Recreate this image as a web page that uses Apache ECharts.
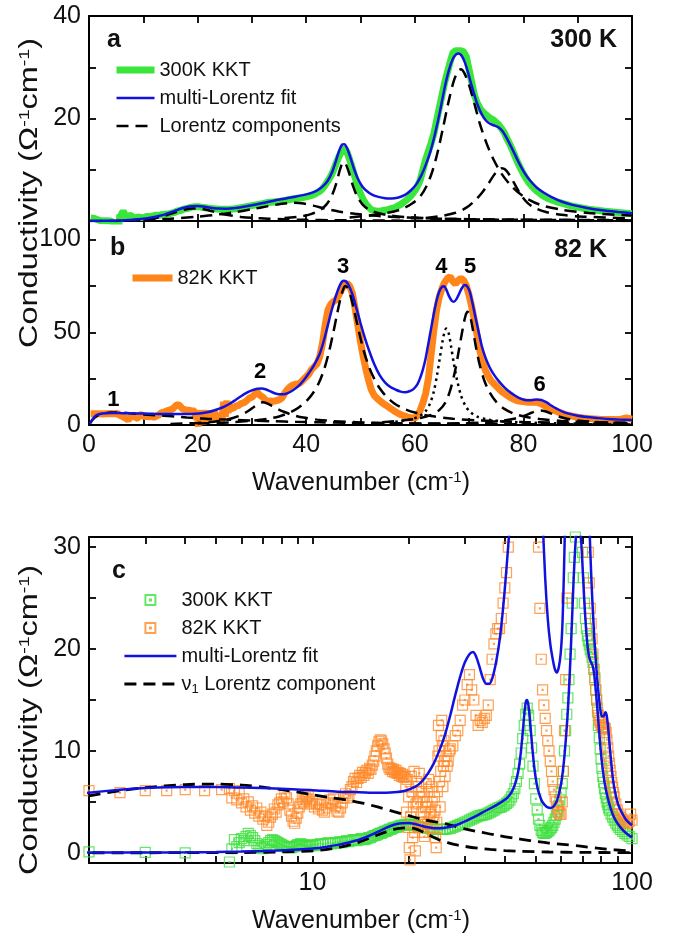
<!DOCTYPE html>
<html><head><meta charset="utf-8">
<script src="https://cdn.jsdelivr.net/npm/echarts@6.0.0/dist/echarts.min.js"></script>
<style>html,body{margin:0;padding:0;background:#fff}#c{width:673px;height:937px}</style>
</head><body><div id="c"></div>
<script>
// ---------- data (wavenumber cm^-1, conductivity Ohm^-1 cm^-1) ----------
const kkt300 = [[0.3,0.6],[1,0.5],[2,0.1],[3,0.05],[4,0.0],
[5.5,-0.9],[5.6,0.4],[5.7,1.3],[5.8,0.6],[5.9,1.0],[6.0,1.4],[6.1,1.2],[6.2,1.6],[6.3,1.9],[6.4,1.7],[6.5,1.5],[6.6,1.2],[6.7,0.9],[6.8,0.7],[6.9,0.5],[7.0,0.4],[7.1,0.6],[7.2,0.8],[7.3,1.0],[7.4,1.2],[7.5,1.3],[7.6,1.2],[7.7,1.1],[7.8,1.0],[7.9,0.9],[8.0,0.8],[8.1,0.7],[8.2,0.6],[8.3,0.6],[8.4,0.5],[8.5,0.5],[8.6,0.5],[8.7,0.6],[8.8,0.6],[8.9,0.7],[9.0,0.8],[9.1,0.8],[9.2,0.9],[9.3,0.8],[9.4,0.7],[9.5,0.7],[9.6,0.6],[9.7,0.6],[9.8,0.7],[9.9,0.7],[10.0,0.8],[10.2,0.7],[10.4,0.8],[10.6,0.9],[10.8,0.8],[11.0,0.9],[11.2,1.0],[11.4,0.9],[11.6,0.9],[11.8,1.0],[12.0,1.0],[12.2,1.1],[12.4,1.0],[12.6,1.1],[12.8,1.2],[13.0,1.1],[13.2,1.2],[13.4,1.3],[13.6,1.3],[13.8,1.2],[14.0,1.3],[14.2,1.4],[14.4,1.4],[14.6,1.3],[14.8,1.4],[15.0,1.5],[15.2,1.5],[15.4,1.6],[15.6,1.7],[15.8,1.7],[16.0,1.8],[16.2,1.9],[16.4,1.9],[16.6,2.0],[16.8,2.1],[17.0,2.1],[17.2,2.2],[17.4,2.3],[17.6,2.3],[17.8,2.4],[18.0,2.5],[18.3,2.5],[18.6,2.6],[18.9,2.7],[19.2,2.7],[19.5,2.8],[19.8,2.8],[20.1,2.8],[20.4,2.8],[20.7,2.7],[21,2.7],[21.5,2.6],[22,2.5],[22.5,2.45],[23,2.4],[23.5,2.35],[24,2.3],[24.5,2.3],[25,2.3],[25.5,2.3],[26,2.3],[26.5,2.35],[27,2.4],[27.5,2.5],[28,2.6],[28.5,2.7],[29,2.8],[29.5,2.9],[30,3.0],[30.5,3.1],[31,3.2],[31.5,3.3],[32,3.4],[32.5,3.5],[33,3.6],[33.5,3.65],[34,3.7],[34.5,3.75],[35,3.8],[35.5,3.9],[36,4.0],[36.5,4.1],[37,4.2],[37.5,4.3],[38,4.4],[38.5,4.45],[39,4.5],[39.5,4.6],[40,4.7],[40.5,4.85],[41,5.0],[41.5,5.2],[42,5.5],[42.5,5.8],[43,6.3],[43.5,7.0],[44,7.8],[44.5,8.7],[45,9.8],[45.5,11.2],[46,12.5],[46.5,13.6],[47,14.2],[47.5,13.5],[48,12],[48.5,10.3],[49,8.5],[49.5,6.8],[50,5.3],[50.5,4.2],[51,3.3],[51.5,2.7],[52,2.2],[52.5,2.0],[53,1.9],[53.5,1.9],[54,2.0],[54.5,2.1],[55,2.2],[55.5,2.35],[56,2.5],[56.5,2.7],[57,3.0],[57.5,3.3],[58,3.7],[58.5,4.1],[59,4.6],[59.5,5.2],[60,5.9],[60.5,6.8],[61,8.0],[61.5,10],[62,12],[62.5,13.6],[63,15.2],[63.5,17],[64,19.5],[64.5,22],[65,24.5],[65.5,27],[66,29],[66.5,31],[67,32.8],[67.5,33.2],[68,33.2],[68.5,33.2],[69,33],[69.5,32],[70,29.5],[70.5,27],[71,24.5],[71.5,23],[72,22],[72.5,21.3],[73,20.8],[73.5,20.4],[74,20],[74.5,19.7],[75,19.2],[75.5,18.7],[76,18],[76.5,17.2],[77,16],[77.5,15],[78,13.8],[78.5,12.5],[79,11.3],[79.5,10.2],[80,9.2],[80.5,8.3],[81,7.5],[81.5,6.9],[82,6.3],[82.5,5.8],[83,5.4],[83.5,5.0],[84,4.7],[84.5,4.4],[85,4.2],[86,3.8],[87,3.5],[88,3.2],[89,2.9],[90,2.7],[91,2.5],[92,2.3],[93.5,2.1],[95,1.9],[96.5,1.75],[98,1.6],[100,1.4]];

const kkt82 = [[0.3,6.0],[1,6.0],[2,6.1],[2.5,5.9],[3,6.1],[3.5,6.1],[4,6.2],[4.6,6.1],[5.2,6.2],
[5.5,6.3],[5.6,5.4],[5.7,6.1],[5.8,5.2],[5.9,5.8],[6.0,4.9],[6.1,5.3],[6.2,4.5],[6.3,5.0],[6.4,4.2],[6.5,4.6],[6.6,3.9],[6.7,4.4],[6.8,3.6],[6.9,4.0],[7.0,3.3],[7.1,3.6],[7.2,2.7],[7.3,3.0],[7.4,3.5],[7.5,3.8],[7.6,4.3],[7.7,4.0],[7.8,4.7],[7.9,4.9],[8.0,5.3],[8.1,5.0],[8.2,5.8],[8.3,5.4],[8.4,4.8],[8.5,4.2],[8.6,3.6],[8.7,3.1],[8.8,2.9],[8.9,3.4],[9.0,3.9],[9.1,4.5],[9.2,4.8],[9.3,5.2],[9.4,5.0],[9.5,5.5],[9.6,5.3],[9.7,5.6],[9.8,5.0],[9.9,4.8],[10.0,5.2],[10.15,4.5],[10.3,4.8],[10.45,4.3],[10.6,4.7],[10.75,4.2],[10.9,4.0],[11.05,4.4],[11.2,4.9],[11.35,5.2],[11.5,4.8],[11.65,5.3],[11.8,4.6],[11.95,4.1],[12.1,4.0],[12.25,4.4],[12.4,4.9],[12.55,5.4],[12.7,5.8],[12.85,5.4],[13.0,5.6],[13.15,6.2],[13.3,6.5],[13.45,7.0],[13.6,7.3],[13.75,6.9],[13.9,7.3],[14.05,7.6],[14.2,7.4],[14.35,7.9],[14.5,7.6],[14.65,7.9],[14.8,8.1],[14.95,7.8],[15.1,8.3],[15.25,8.2],[15.4,8.6],[15.55,9.0],[15.7,9.5],[15.85,10.0],[16.0,10.5],[16.15,10.9],[16.3,11.1],[16.45,11.0],[16.6,10.7],[16.75,10.2],[16.9,9.8],[17.05,9.3],[17.2,8.7],[17.35,8.4],[17.5,8.2],[17.65,8.3],[17.8,8.0],[17.95,8.2],[18.1,7.9],[18.25,8.1],[18.4,7.8],[18.55,7.9],[18.7,7.6],[18.85,7.8],[19.0,7.5],[19.15,7.7],[19.3,7.4],[19.5,7.5],
[19.6,6.5],[19.7,4.0],[19.8,7.2],[19.9,2.5],[20.0,5.5],[20.1,0.5],[20.2,-0.7],[20.3,3.5],[20.4,7.5],[20.5,6.0],[20.6,1.5],[20.7,4.5],[20.8,8.0],[20.9,2.0],[21.0,0.2],[21.1,4.8],[21.2,7.0],[21.3,5.0],[21.4,2.5],[21.5,6.5],[21.6,7.8],[21.7,5.5],[21.8,3.0],[21.9,6.0],[22.0,4.0],[22.1,2.0],[22.2,5.5],[22.3,3.5],[22.4,1.6],[22.5,2.8],[22.6,4.5],[22.7,6.8],[22.8,5.0],[22.9,2.8],[23.0,4.5],[23.1,7.2],[23.2,6.0],[23.3,3.8],[23.4,2.5],[23.5,4.0],[23.6,6.5],[23.7,5.0],[23.8,3.0],[23.9,2.0],[24.0,3.5],[24.1,5.5],[24.2,4.2],[24.3,1.5],[24.4,0.5],[24.5,3.0],[24.6,6.0],[24.7,9.5],[24.8,12.5],[24.9,10.0],[25.0,7.0],[25.1,4.5],[25.2,8.0],[25.3,11.5],[25.4,13.0],[25.5,10.5],[25.6,6.5],[25.7,8.5],[25.8,11.0],[25.9,9.0],[26.0,7.5],[26.2,9.5],[26.4,8.5],[26.6,9.0],[26.8,10.0],[27,10.2],[27.5,10.5],[28,11.5],[28.5,12],[29,13],[29.5,14.5],[30,15],[30.5,16.5],[31,17.5],[31.5,16],[32,15],[32.5,13.5],[33,12.5],[33.5,13],[34,12.8],[34.5,13.2],[35,13.5],[35.5,14.5],[36,17],[36.5,19],[37,20.5],[37.5,21.5],[38,22],[38.5,22],[39,23],[39.5,24.5],[40,26],[40.5,27.5],[41,30],[41.5,31.5],[42,33],[42.5,37],[43,44],[43.5,54],[44,62],[44.5,65],[45,66.5],[45.5,67.5],[46,70],[46.5,73],[47,75.5],[47.5,76.5],[48,75],[48.5,71],[49,63],[49.5,54],[50,45],[50.5,37],[51,30],[51.5,24],[52,19],[52.5,16],[53,14.5],[53.5,13.2],[54,12],[54.5,11],[55,10],[55.5,9],[56,8],[56.5,7],[57,6.2],[57.5,5.5],[58,5],[58.5,4.4],[59,4],[59.5,3.8],[60,3.8],[60.5,5],[61,8],[61.5,12],[62,17],[62.5,25],[63,38],[63.5,51],[64,62],[64.5,69],[65,73.5],[65.5,77],[66,79],[66.5,80],[67,77.5],[67.5,76],[68,78],[68.5,79],[69,78],[69.5,75],[70,70],[70.5,63.5],[71,56],[71.5,48],[72,40],[72.5,34],[73,29.5],[73.5,26.5],[74,24],[74.5,22.5],[75,21],[75.5,19.5],[76,18],[76.5,17],[77,16],[77.5,15],[78,14.2],[78.5,13.5],[79,13],[79.5,12.8],[80,12.6],[80.5,12.4],[81,12.3],[81.5,12.3],[82,12.3],[82.5,12.2],[83,11.8],[83.5,11.1],[84,10.3],[84.5,9.5],[85,8.8],[85.5,8.1],[86,7.5],[86.5,6.9],[87,6.4],[87.5,5.9],[88,5.5],[89,4.8],[90,4.2],[91,3.8],[92,3.5],[93,3.3],[94,3.1],[95,3.0],[96,2.9],[97,2.9],[98,3.1],[99,3.8],[100,3.2]];

const fit300 = [[0.2,0],[2,0.02],[3,0.03],[4,0.05],[5,0.08],[6,0.12],[7,0.18],[8,0.25],[9,0.32],[10,0.42],[11,0.58],[12,0.78],[13,1.02],[14,1.3],[15,1.65],[16,2.05],[17,2.45],[18,2.75],[19,2.9],[20,2.92],[21,2.82],[22,2.65],[23,2.5],[24,2.42],[25,2.4],[26,2.45],[27,2.55],[28,2.7],[29,2.88],[30,3.08],[32,3.5],[34,3.95],[36,4.35],[38,4.75],[40,5.2],[41,5.5],[42,5.95],[43,6.7],[44,7.9],[44.8,9.6],[45.5,11.8],[46.1,13.8],[46.6,14.9],[47,15.0],[47.5,14.3],[48.1,12.5],[48.8,10.2],[49.5,8.3],[50.3,6.8],[51.2,5.8],[52.2,5.1],[53.3,4.7],[54.5,4.45],[55.7,4.4],[57,4.6],[58.2,5.1],[59.3,6],[60.3,7.2],[61.2,8.9],[62,10.9],[62.8,13.3],[63.5,16],[64.2,19.2],[64.9,22.8],[65.6,26.5],[66.3,29.5],[67,31.6],[67.6,32.5],[68.1,32.7],[68.6,32.3],[69.2,31],[69.8,29],[70.5,26.3],[71.2,23.8],[71.9,21.8],[72.6,20.3],[73.3,19.4],[74,18.9],[74.7,18.6],[75.4,18.3],[76.1,17.6],[76.8,16.4],[77.5,15],[78.3,13.3],[79.2,11.3],[80.2,9.4],[81.3,7.8],[82.5,6.5],[83.8,5.5],[85.3,4.6],[87,3.8],[89,3.15],[91.5,2.6],[94.5,2.1],[97.5,1.75],[100,1.5]];

const fit82 = [[0.2,1.0],[0.5,2.5],[1,4.4],[1.5,5.4],[2,5.9],[2.5,6.2],[3,6.35],[4,6.45],[5,6.45],[6,6.4],[8,6.3],[10,6.15],[12,6.0],[14,5.95],[16,5.9],[18,5.95],[19.5,6.1],[21,6.5],[22,7.0],[23,7.8],[24,8.8],[25,10.1],[26,11.6],[27,13.5],[28,15.5],[29,17.3],[30,18.7],[31,19.5],[31.8,19.7],[32.5,19.3],[33.3,18.3],[34.2,17.1],[35,16.6],[35.8,16.6],[36.6,17.2],[37.5,18.6],[38.5,20.8],[39.5,24],[40.5,28],[41.5,32.5],[42.5,38.5],[43.3,46],[44,54],[44.7,62],[45.4,69],[46,74],[46.5,77],[46.9,77.8],[47.3,77.5],[47.8,75.5],[48.5,70.5],[49.2,63.5],[50,55],[50.8,47],[51.6,40],[52.5,33],[53.5,27],[54.5,23],[55.5,20.5],[56.5,19],[57.4,18],[58.2,17.7],[59,18.2],[59.8,19.5],[60.5,22],[61,25.5],[61.5,30],[62,36],[62.5,44],[63,52],[63.5,60],[64,67],[64.5,72],[65,74.5],[65.4,74.8],[65.8,73],[66.3,69.5],[66.8,67],[67.2,66.5],[67.7,68],[68.2,71],[68.7,74],[69.2,75.5],[69.6,75],[70.1,72],[70.6,66],[71.1,59],[71.7,51],[72.3,43],[73,36.5],[73.8,31],[74.6,27],[75.5,23.5],[76.5,20.3],[77.5,17.8],[78.5,15.8],[79.5,14.2],[80.5,13.4],[81.5,13.4],[82.5,13.8],[83.3,13.5],[84.2,12.3],[85.2,10.4],[86.2,8.7],[87.3,7.1],[88.5,6.0],[90,5.0],[91.7,4.3],[93.5,3.8],[95.5,3.3],[97.5,3.0],[100,2.7]];

// Lorentz components, 300 K
const nu1_300 = [[0.2,0],[4,0.01],[6,0.03],[8,0.08],[10,0.2],[11,0.32],[12,0.5],[13,0.75],[14,1.05],[15,1.4],[16,1.75],[17,2.05],[18,2.3],[19,2.42],[20,2.45],[21,2.35],[22,2.1],[23,1.8],[24,1.5],[25,1.25],[26.5,1.0],[28,0.8],[30,0.63],[33,0.45],[36,0.33],[40,0.22],[45,0.15],[55,0.08],[70,0.04],[100,0.02]];
const c300_2 = [[10,0.2],[15,0.45],[20,0.85],[24,1.3],[27,1.75],[30,2.3],[33,2.9],[35.5,3.35],[37.5,3.55],[39.5,3.4],[41.5,2.95],[43.5,2.4],[46,1.85],[49,1.4],[53,1.0],[58,0.7],[65,0.45],[75,0.3],[100,0.15]];
const c300_3 = [[36,0.6],[39,0.9],[41,1.4],[42.5,2.1],[43.7,3.2],[44.7,4.9],[45.5,7.2],[46.1,9.6],[46.6,11.2],[46.9,11.5],[47.3,11.1],[47.9,9.4],[48.6,6.9],[49.4,4.8],[50.4,3.2],[51.6,2.2],[53,1.6],[55,1.15],[58,0.8],[63,0.5],[72,0.3],[100,0.12]];
const c300_4 = [[48,0.7],[52,1.1],[55,1.6],[57.5,2.3],[59.5,3.4],[61,4.8],[62.2,6.9],[63.2,9.6],[64.2,13.4],[65.2,18.2],[66.2,23.2],[67.2,27.4],[68,29.3],[68.5,29.6],[69.1,28.9],[70,26.5],[71,22.8],[72,18.9],[73.2,15.2],[74.5,12],[76,9.2],[77.8,6.8],[80,4.8],[83,3.2],[87,2.2],[92,1.55],[100,1.05]];
const c300_5 = [[62,0.6],[65,1.0],[67.5,1.6],[69.5,2.6],[71,3.9],[72.3,5.4],[73.5,7.2],[74.6,9.0],[75.4,10.0],[76,10.3],[76.7,10],[77.6,8.7],[78.6,6.8],[79.6,5.0],[80.7,3.6],[82,2.6],[84,1.8],[87,1.2],[91,0.85],[100,0.5]];

// Lorentz components, 82 K
const nu1_82 = [[0.2,0.9],[0.5,2.2],[1,3.8],[1.5,4.9],[2,5.6],[2.5,6.1],[3,6.4],[4,6.7],[5,6.75],[6,6.65],[7,6.45],[8,6.2],[9,5.95],[10,5.7],[11.5,5.4],[13,5.15],[14.5,4.85],[16,4.5],[18,4.05],[20,3.65],[22,3.3],[24,3.05],[26.5,2.8],[30,2.35],[34,2.0],[38,1.7],[42.5,1.45],[48,1.2],[55,0.95],[62,0.8],[69,0.65],[78,0.45],[88,0.3],[100,0.15]];
const c82_2 = [[15,0.6],[20,1.1],[23,1.8],[25.5,3.0],[27.5,4.8],[29,7.0],[30.3,9.6],[31.3,11.4],[32,12.2],[32.7,11.8],[33.6,10.5],[34.7,8.7],[36,7.0],[37.5,5.4],[39.5,4.0],[42,2.9],[45,2.1],[50,1.4],[58,0.85],[70,0.5],[85,0.3],[100,0.2]];
const c82_3 = [[20,0.8],[26,1.4],[30,2.3],[33,3.4],[35,4.6],[36.8,6.5],[38.5,9.2],[40,12.8],[41.2,17],[42.3,22.5],[43.3,30],[44.2,39.5],[45,50],[45.7,60],[46.3,68],[46.8,73],[47.2,75],[47.6,74],[48.2,69.5],[48.9,61],[49.7,50.5],[50.6,40],[51.6,31],[52.6,24.5],[53.6,19.5],[54.8,15.2],[56.3,11.5],[58,8.8],[60,6.7],[63,4.8],[67,3.4],[72,2.4],[80,1.6],[90,1.1],[100,0.8]];
const c82_4 = [[54,1.2],[57,2],[59.5,3.2],[61,5],[62,7.5],[62.8,11.5],[63.5,18],[64.1,27],[64.6,36],[65.1,45],[65.5,50.5],[65.8,52],[66.2,50],[66.7,42],[67.2,33],[67.8,24],[68.5,16],[69.3,10.5],[70.2,7],[71.5,4.5],[73.5,2.9],[77,1.8],[83,1.1],[92,0.7],[100,0.5]];
const c82_5 = [[54,1.5],[58,2.5],[61,3.8],[63,5.5],[64.5,8],[65.7,12.5],[66.6,19.5],[67.4,29],[68.1,40],[68.8,51.5],[69.3,58.5],[69.7,61],[70.1,59.5],[70.6,53],[71.2,43],[71.9,33],[72.8,24],[73.8,17.5],[75,12.5],[76.5,8.7],[78.2,6.2],[80.3,4.4],[83,3.2],[87,2.2],[93,1.5],[100,1.1]];
const c82_6 = [[66,0.7],[72,1.3],[76,2.3],[78.5,3.5],[80.2,5.0],[81.5,6.6],[82.5,7.6],[83.2,7.8],[84,7.4],[85,6.3],[86.3,4.8],[88,3.4],[90.5,2.3],[94,1.5],[100,0.9]];

// peak numbers in panel b
const peakNames = ['1','2','3','4','5','6'];
const peakPos = [[4.5,13.5],[31.5,28.7],[46.8,85.3],[64.9,85.3],[70.2,85.3],[83,21.6]];

// ticks and tick labels
const xTicksLin = [0,10,20,30,40,50,60,70,80,90,100];
const xLabelsLin = [0,20,40,60,80,100];
const yTicksA = [0,10,20,30,40];
const yLabelsA = [20,40];
const yTicksB = [0,25,50,75,100];
const yLabelsB = [0,50,100];
const xTicksLog = [2,3,4,5,6,7,8,9,10,20,30,40,50,60,70,80,90,100];
const xLabelsLog = [10,100];
const yTicksC = [0,5,10,15,20,25,30];
const yLabelsC = [0,10,20,30];

// ---------- styles ----------
const FONT = "'Liberation Sans', Arial, Helvetica, sans-serif";
const GREEN = '#3be63b', ORANGE = '#ff8419', BLUE = '#1212e0', BLACK = '#000';
const DASH = [12, 7], DOT = [2.5, 4];
const SQ = 'path://M0,0L10,0L10,10L0,10Z M4.5,4.5L5.5,4.5L5.5,5.5L4.5,5.5Z';

function axis(grid, pos, type, min, max, ticks, labels) {
  const a = {
    type, gridIndex: grid, position: pos, min, max,
    axisLine: {show: true, onZero: false, lineStyle: {color: BLACK, width: 2}},
    axisTick: {show: true, inside: true, length: 7, lineStyle: {color: BLACK, width: 1.8}, customValues: ticks},
    axisLabel: labels ? {show: true, customValues: labels, margin: 8, fontSize: 25, color: '#111', fontFamily: FONT} : {show: false},
    splitLine: {show: false}, minorTick: {show: false}
  };
  if (type === 'log') a.logBase = 10;
  return a;
}
const xAxis = [
  axis(0,'bottom','value',0,100,xTicksLin,null),
  axis(0,'top','value',0,100,xTicksLin,null),
  axis(1,'bottom','value',0,100,xTicksLin,xLabelsLin),
  axis(1,'top','value',0,100,xTicksLin,null),
  axis(2,'bottom','log',2,100,xTicksLog,xLabelsLog),
  axis(2,'top','log',2,100,xTicksLog,null)
];
const yAxis = [
  axis(0,'left','value',0,40,yTicksA,yLabelsA),
  axis(0,'right','value',0,40,yTicksA,null),
  axis(1,'left','value',0,110,yTicksB,yLabelsB),
  axis(1,'right','value',0,110,yTicksB,null),
  axis(2,'left','value',-1,31,yTicksC,yLabelsC),
  axis(2,'right','value',-1,31,yTicksC,null)
];

// g = panel index (0 = a, 1 = b, 2 = c); each panel owns axes 2g (bottom/left) and 2g+1 (top/right)
function line(name, data, g, color, width, dash, smooth) {
  return {type: 'line', name, data, xAxisIndex: 2 * g, yAxisIndex: 2 * g, showSymbol: false, symbol: 'none',
    smooth: smooth || false, clip: true, animation: false,
    lineStyle: {color, width, type: dash || 'solid', cap: 'butt'}, itemStyle: {color},
    emphasis: {disabled: true}};
}
function scat(name, data, g, color) {
  return {type: 'scatter', name, data, xAxisIndex: 2 * g, yAxisIndex: 2 * g, symbol: SQ, symbolSize: 10,
    clip: true, animation: false, itemStyle: {color: 'rgba(0,0,0,0)', borderColor: color, borderWidth: 1.2},
    emphasis: {disabled: true}};
}

const series = [
  // panel a
  line('300K KKT', kkt300, 0, GREEN, 7),
  line('Lorentz components', nu1_300, 0, BLACK, 2.5, DASH, 0.3),
  line('Lorentz components', c300_2, 0, BLACK, 2.5, DASH, 0.3),
  line('Lorentz components', c300_3, 0, BLACK, 2.5, DASH, 0.3),
  line('Lorentz components', c300_4, 0, BLACK, 2.5, DASH, 0.3),
  line('Lorentz components', c300_5, 0, BLACK, 2.5, DASH, 0.3),
  line('multi-Lorentz fit', fit300, 0, BLUE, 2.5, null, 0.3),
  // panel b
  line('82K KKT', kkt82, 1, ORANGE, 7),
  line('Lorentz components', nu1_82, 1, BLACK, 2.5, DASH, 0.3),
  line('Lorentz components', c82_2, 1, BLACK, 2.5, DASH, 0.3),
  line('Lorentz components', c82_3, 1, BLACK, 2.5, DASH, 0.3),
  line('Lorentz components', c82_4, 1, BLACK, 2.5, DOT, 0.3),
  line('Lorentz components', c82_5, 1, BLACK, 2.5, DASH, 0.3),
  line('Lorentz components', c82_6, 1, BLACK, 2.5, DASH, 0.3),
  line('multi-Lorentz fit', fit82, 1, BLUE, 2.5, null, 0.3),
  {type: 'scatter', name: 'peaks', xAxisIndex: 2, yAxisIndex: 2, symbolSize: 0, animation: false,
   itemStyle: {color: '#000', opacity: 1}, silent: true,
   data: peakPos.map((p, i) => ({value: p, name: peakNames[i]})),
   label: {show: true, position: 'inside', formatter: p => p.name, fontWeight: 'bold', fontSize: 22,
     color: '#000', opacity: 1, textBorderWidth: 0, textShadowBlur: 0, fontFamily: FONT}},
  // panel c
  scat('c300', kkt300, 2, '#3fe03f'),
  scat('c82', kkt82, 2, '#ff8a2a'),
  line('nu1', nu1_300, 2, BLACK, 2.8, DASH, 0.3),
  line('nu1', nu1_82, 2, BLACK, 2.8, DASH, 0.3),
  line('multi-Lorentz fit', fit300, 2, BLUE, 2.5, null, 0.3),
  line('multi-Lorentz fit', fit82, 2, BLUE, 2.5, null, 0.3)
];

const legendText = {c300: '300K KKT', c82: '82K KKT', nu1: 'ν{sub|1} Lorentz component'};
const legTS = {fontSize: 20, color: '#111', fontFamily: FONT,
  rich: {sub: {fontSize: 13, verticalAlign: 'bottom', padding: [10, 0, 0, 0], fontFamily: FONT, color: '#111'}}};
const noSym = {opacity: 0};
const legend = [
  {orient: 'vertical', left: 113, top: 60, padding: 0, itemWidth: 38, itemHeight: 14, itemGap: 8, selectedMode: false,
   lineStyle: {width: 'inherit'},
   data: [{name: '300K KKT', itemStyle: noSym}, {name: 'multi-Lorentz fit', itemStyle: noSym}, {name: 'Lorentz components', itemStyle: noSym}],
   textStyle: legTS},
  {orient: 'vertical', left: 129, top: 268, padding: 0, itemWidth: 40, itemHeight: 14, itemGap: 8, selectedMode: false,
   lineStyle: {width: 'inherit'},
   data: [{name: '82K KKT', itemStyle: noSym}], textStyle: legTS},
  {orient: 'vertical', left: 123, top: 590, padding: 0, itemWidth: 52, itemHeight: 10, itemGap: 8, selectedMode: false,
   lineStyle: {width: 'inherit'},
   data: [{name: 'c300', icon: SQ}, {name: 'c82', icon: SQ}, {name: 'multi-Lorentz fit', itemStyle: noSym}, {name: 'nu1', itemStyle: noSym}],
   formatter: n => legendText[n] || n, textStyle: legTS}
];

const supRich = {sup: {fontSize: 15, verticalAlign: 'top', fontFamily: FONT, fill: '#111'}};
function txt(x, y, text, size, bold, align, rot, sx) {
  return {type: 'text', x, y, rotation: rot || 0, scaleX: sx || 1, silent: true,
    style: {text, fontSize: size, fontWeight: bold ? 'bold' : 'normal', fontFamily: FONT, fill: '#111',
      align: align || 'left', verticalAlign: 'middle', rich: supRich}};
}
const graphic = [
  txt(107, 40, 'a', 25, true),
  txt(617, 40, '300 K', 25, true, 'right'),
  txt(110, 248, 'b', 25, true),
  txt(607, 250, '82 K', 25, true, 'right'),
  txt(112, 571, 'c', 25, true),
  txt(30, 193, 'Conductivity (Ω{sup|-1}cm{sup|-1})', 25, false, 'center', Math.PI / 2, 1.3),
  txt(30, 720, 'Conductivity (Ω{sup|-1}cm{sup|-1})', 25, false, 'center', Math.PI / 2, 1.3),
  txt(361, 483, 'Wavenumber (cm{sup|-1})', 25, false, 'center'),
  txt(361, 921, 'Wavenumber (cm{sup|-1})', 25, false, 'center')
];

const chart = echarts.init(document.getElementById('c'), null, {renderer: 'canvas'});
chart.setOption({
  backgroundColor: '#fff', animation: false, textStyle: {fontFamily: FONT},
  grid: [
    {left: 89, top: 16, width: 543, height: 205},
    {left: 89, top: 221, width: 543, height: 204},
    {left: 89, top: 537, width: 543, height: 326}
  ],
  xAxis, yAxis, series, legend, graphic
});
</script></body></html>
